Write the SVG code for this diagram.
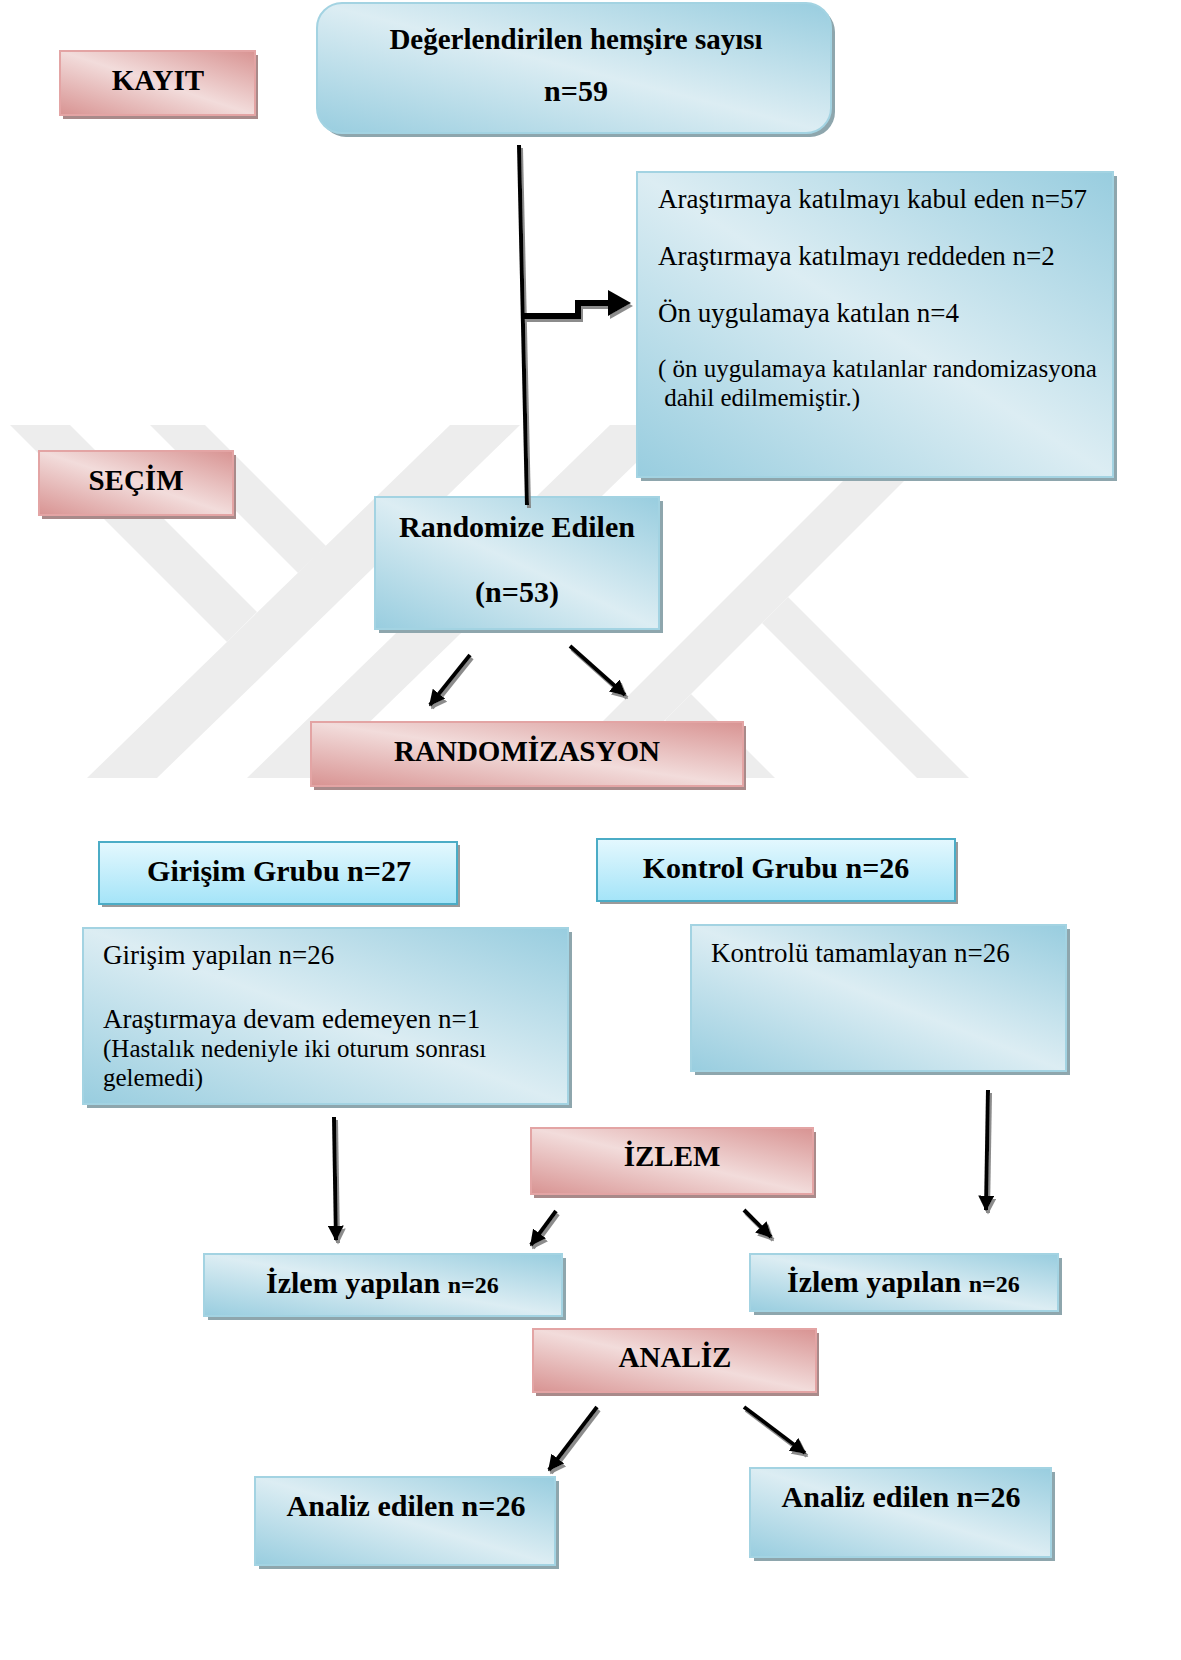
<svg xmlns="http://www.w3.org/2000/svg" width="1181" height="1660" viewBox="0 0 1181 1660">
<defs>
<linearGradient id="gBlue" x1="1" y1="0" x2="0" y2="1">
<stop offset="0" stop-color="#98cddf"/>
<stop offset="0.5" stop-color="#dcedf3"/>
<stop offset="1" stop-color="#98cddf"/>
</linearGradient>
<linearGradient id="gPink" x1="1" y1="0" x2="0" y2="1">
<stop offset="0" stop-color="#d89392"/>
<stop offset="0.5" stop-color="#f2dcdb"/>
<stop offset="1" stop-color="#d89392"/>
</linearGradient>
<linearGradient id="gCyan" x1="0" y1="0" x2="0" y2="1">
<stop offset="0" stop-color="#e4f8fe"/>
<stop offset="1" stop-color="#a4e4f8"/>
</linearGradient>
<marker id="ah" viewBox="0 0 10 10" refX="9" refY="5" markerWidth="4" markerHeight="4" orient="auto" markerUnits="strokeWidth">
<path d="M0,0 L10,5 L0,10 z" fill="#000"/>
</marker>
<filter id="sh" x="-20%" y="-20%" width="140%" height="140%">
<feDropShadow dx="2" dy="3" stdDeviation="0.6" flood-color="#7f7f7f" flood-opacity="0.9"/>
</filter>
<clipPath id="wmclip"><rect x="0" y="425" width="1181" height="353"/></clipPath>
</defs>
<style>
.blue{fill:url(#gBlue);stroke:#a3d3e2;stroke-width:2}
.pink{fill:url(#gPink);stroke:#e3a4a4;stroke-width:2}
.cyan{fill:url(#gCyan);stroke:#4bacc6;stroke-width:2}
.shb{fill:#8ea6ad}
.shp{fill:#a98a8a}
.shc{fill:#9a9a9a}
.wm{fill:#ededed}
text{font-family:"Liberation Serif","Times New Roman",serif;fill:#000}
.b{font-weight:bold;font-size:30px}
.r{font-size:27px}
.s{font-size:25px}
.line{stroke:#000;stroke-width:4;fill:none}
</style>
<rect width="1181" height="1660" fill="#fff"/>
<g id="watermark" clip-path="url(#wmclip)">
<polygon class="wm" points="10,425 70,425 257,612 227,642"/>
<polygon class="wm" points="150,425 205,425 326,546 298,573"/>
<polygon class="wm" points="450,425 520,425 157,778 87,778"/>
<polygon class="wm" points="610,425 675,425 312,778 247,778"/>
<polygon class="wm" points="899,425 960,425 607,778 546,778"/>
<polygon class="wm" points="788,597 969,778 917,778 762,623"/>
<polygon class="wm" points="691,694 775,778 723,778 665,720"/>
</g>
<g id="n-top">
<rect x="321" y="7" width="514" height="130" rx="25" class="shb"/>
<rect x="317" y="3" width="514" height="130" rx="25" class="blue"/>
<text x="576" y="49" text-anchor="middle" class="b" style="font-size:29px">Değerlendirilen hemşire sayısı</text>
<text x="576" y="101" text-anchor="middle" class="b">n=59</text>
</g>
<g id="n-kayit">
<rect x="63" y="55" width="195" height="64" class="shp"/>
<rect x="60" y="51" width="195" height="64" class="pink"/>
<text x="158" y="90" text-anchor="middle" class="b" style="font-size:29px">KAYIT</text>
</g>
<g id="n-info">
<rect x="641" y="176" width="476" height="305" class="shb"/>
<rect x="637" y="172" width="476" height="305" class="blue"/>
<text x="658" y="208" class="r">Araştırmaya katılmayı kabul eden n=57</text>
<text x="658" y="265" class="r">Araştırmaya katılmayı reddeden n=2</text>
<text x="658" y="322" class="r">Ön uygulamaya katılan n=4</text>
<text x="658" y="377" class="s">( ön uygulamaya katılanlar randomizasyona</text>
<text x="658" y="406" class="s" xml:space="preserve"> dahil edilmemiştir.)</text>
</g>
<g id="n-secim">
<rect x="42" y="455" width="194" height="64" class="shp"/>
<rect x="39" y="451" width="194" height="64" class="pink"/>
<text x="136" y="490" text-anchor="middle" class="b" style="font-size:29px">SEÇİM</text>
</g>
<g id="n-randomize">
<rect x="379" y="501" width="284" height="132" class="shb"/>
<rect x="375" y="497" width="284" height="132" class="blue"/>
<text x="517" y="537" text-anchor="middle" class="b">Randomize Edilen</text>
<text x="517" y="602" text-anchor="middle" class="b">(n=53)</text>
</g>
<g id="n-randomizasyon">
<rect x="314" y="726" width="432" height="64" class="shp"/>
<rect x="311" y="722" width="432" height="64" class="pink"/>
<text x="527" y="761" text-anchor="middle" class="b" style="font-size:29px">RANDOMİZASYON</text>
</g>
<g id="n-girisim-grubu">
<rect x="102" y="845" width="358" height="62" class="shc"/>
<rect x="99" y="842" width="358" height="62" class="cyan"/>
<text x="279" y="881" text-anchor="middle" class="b">Girişim Grubu n=27</text>
</g>
<g id="n-kontrol-grubu">
<rect x="600" y="842" width="358" height="62" class="shc"/>
<rect x="597" y="839" width="358" height="62" class="cyan"/>
<text x="776" y="878" text-anchor="middle" class="b">Kontrol Grubu n=26</text>
</g>
<g id="n-girisim-yapilan">
<rect x="87" y="932" width="485" height="176" class="shb"/>
<rect x="83" y="928" width="485" height="176" class="blue"/>
<text x="103" y="964" class="r">Girişim yapılan n=26</text>
<text x="103" y="1028" class="r">Araştırmaya devam edemeyen n=1</text>
<text x="103" y="1057" style="font-size:25px">(Hastalık nedeniyle iki oturum sonrası</text>
<text x="103" y="1086" style="font-size:25px">gelemedi)</text>
</g>
<g id="n-kontrolu">
<rect x="695" y="929" width="375" height="146" class="shb"/>
<rect x="691" y="925" width="375" height="146" class="blue"/>
<text x="711" y="962" class="r">Kontrolü tamamlayan n=26</text>
</g>
<g id="n-izlem">
<rect x="534" y="1132" width="282" height="66" class="shp"/>
<rect x="531" y="1128" width="282" height="66" class="pink"/>
<text x="672" y="1166" text-anchor="middle" class="b" style="font-size:29px">İZLEM</text>
</g>
<g id="n-izlem-sol">
<rect x="208" y="1258" width="358" height="62" class="shb"/>
<rect x="204" y="1254" width="358" height="62" class="blue"/>
<text x="266" y="1293" class="b">İzlem yapılan <tspan style="font-size:24px">n=26</tspan></text>
</g>
<g id="n-izlem-sag">
<rect x="754" y="1258" width="308" height="57" class="shb"/>
<rect x="750" y="1254" width="308" height="57" class="blue"/>
<text x="787" y="1292" class="b">İzlem yapılan <tspan style="font-size:24px">n=26</tspan></text>
</g>
<g id="n-analiz">
<rect x="536" y="1333" width="283" height="63" class="shp"/>
<rect x="533" y="1329" width="283" height="63" class="pink"/>
<text x="675" y="1367" text-anchor="middle" class="b" style="font-size:29px">ANALİZ</text>
</g>
<g id="n-analiz-sol">
<rect x="259" y="1481" width="300" height="88" class="shb"/>
<rect x="255" y="1477" width="300" height="88" class="blue"/>
<text x="406" y="1516" text-anchor="middle" class="b">Analiz edilen n=26</text>
</g>
<g id="n-analiz-sag">
<rect x="754" y="1472" width="301" height="89" class="shb"/>
<rect x="750" y="1468" width="301" height="89" class="blue"/>
<text x="901" y="1507" text-anchor="middle" class="b">Analiz edilen n=26</text>
</g>
<g id="connectors" filter="url(#sh)">
<line x1="519" y1="145" x2="527" y2="505" class="line"/>
<path d="M522,316 H578 V303 H610" fill="none" stroke="#000" stroke-width="6"/>
<polygon points="608,290 631,303 608,316" fill="#000"/>
<line x1="470" y1="655" x2="430" y2="705" class="line" marker-end="url(#ah)"/>
<line x1="570" y1="646" x2="625" y2="695" class="line" marker-end="url(#ah)"/>
<line x1="334" y1="1117" x2="336" y2="1240" class="line" marker-end="url(#ah)"/>
<line x1="988" y1="1090" x2="986" y2="1210" class="line" marker-end="url(#ah)"/>
<line x1="556" y1="1211" x2="531" y2="1245" class="line" marker-end="url(#ah)"/>
<line x1="744" y1="1210" x2="771" y2="1237" class="line" marker-end="url(#ah)"/>
<line x1="597" y1="1407" x2="549" y2="1470" class="line" marker-end="url(#ah)"/>
<line x1="744" y1="1407" x2="805" y2="1453" class="line" marker-end="url(#ah)"/>
</g>
</svg>
